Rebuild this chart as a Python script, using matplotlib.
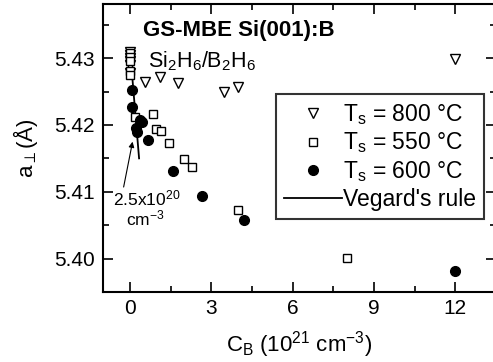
import matplotlib
matplotlib.use("Agg")
import matplotlib.pyplot as plt

plt.rcParams['font.family'] = ['Liberation Sans', 'DejaVu Sans']
plt.rcParams['mathtext.fontset'] = 'custom'
plt.rcParams['mathtext.rm'] = 'Liberation Sans'
plt.rcParams['mathtext.it'] = 'Liberation Sans'

# T_s = 800 C (open triangles)
c800 = [0, 0, 0, 0, 0, 0, 0.56, 1.1, 1.78, 3.45, 3.97, 12.0]
a800 = [5.4309, 5.4304, 5.4300, 5.4295, 5.4290, 5.4278, 5.4264, 5.4272, 5.4263, 5.4249, 5.4257, 5.4299]

# T_s = 550 C (open squares)
c550 = [0, 0, 0, 0, 0, 0.19, 0.85, 0.97, 1.15, 1.45, 1.97, 2.3, 3.97, 8.0]
a550 = [5.4307, 5.4301, 5.4295, 5.4280, 5.4274, 5.4212, 5.4216, 5.4194, 5.4191, 5.4173, 5.4149, 5.4137, 5.4072, 5.4001]

# T_s = 600 C (filled circles)
c600 = [0.07, 0.07, 0.37, 0.45, 0.22, 0.26, 0.67, 1.6, 2.64, 4.2, 12.0]
a600 = [5.4252, 5.4227, 5.4207, 5.4204, 5.4195, 5.4190, 5.4178, 5.4131, 5.4094, 5.4057, 5.3982]

# Vegard's rule
c_veg = [0.0, 0.33]
a_veg = [5.431, 5.415]

fig = plt.figure(figsize=(4.93, 3.62), dpi=100)
ax = fig.add_axes([0.209, 0.1934, 0.797, 0.7956])

ax.plot(c_veg, a_veg, color='black', lw=1.3, label="Vegard's rule", zorder=2)
ax.plot(c800, a800, 'v', ms=7, mfc='white', mec='black', mew=1.0, ls='none',
        label='T$_\\mathrm{s}$ = 800 °C', zorder=3)
ax.plot(c550, a550, 's', ms=5.5, mfc='white', mec='black', mew=1.0, ls='none',
        label='T$_\\mathrm{s}$ = 550 °C', zorder=3)
ax.plot(c600, a600, 'o', ms=7, mfc='black', mec='black', ls='none',
        label='T$_\\mathrm{s}$ = 600 °C', zorder=4)

ax.set_xlim(-1.0, 13.5)
ax.set_ylim(5.3951, 5.4381)
ax.set_xticks([0, 3, 6, 9, 12])
ax.set_xticks([1.5, 4.5, 7.5, 10.5], minor=True)
ax.set_yticks([5.40, 5.41, 5.42, 5.43])
ax.set_yticklabels(['5.40', '5.41', '5.42', '5.43'])
ax.set_yticks([5.395, 5.405, 5.415, 5.425, 5.435], minor=True)
ax.tick_params(which='both', direction='in', top=True, right=True, labelsize=15, width=1.2)
ax.tick_params(which='major', length=7)
ax.tick_params(which='minor', length=4)
ax.tick_params(axis='x', pad=5)
ax.tick_params(axis='y', pad=6)
for s in ax.spines.values():
    s.set_linewidth(1.5)

ax.set_xlabel('C$_\\mathrm{B}$ (10$^{21}$ cm$^{-3}$)', fontsize=16, labelpad=8)
ax.set_ylabel('a$_\\perp$(Å)', fontsize=16, labelpad=10)

ax.text(0.48, 5.4342, 'GS-MBE Si(001):B', fontsize=16, fontweight='bold', va='center')
ax.text(0.67, 5.4296, 'Si$_2$H$_6$/B$_2$H$_6$', fontsize=15.5, va='center')

ax.annotate('', xy=(0.11, 5.4179), xytext=(-0.26, 5.4103),
            arrowprops=dict(arrowstyle='-|>', color='black', lw=0.8, mutation_scale=8))
ax.text(-0.62, 5.4080, '2.5x10$^{20}$', fontsize=12.5)
ax.text(-0.15, 5.4050, 'cm$^{-3}$', fontsize=12.5)

handles, labels = ax.get_legend_handles_labels()
order = [1, 2, 3, 0]
leg = ax.legend([handles[i] for i in order], [labels[i] for i in order],
                loc='upper left', bbox_to_anchor=(0.441, 0.6875), fontsize=16.5,
                frameon=True, fancybox=False, edgecolor='black', handlelength=2.5,
                handletextpad=0.05, borderpad=0.35, labelspacing=0.16, borderaxespad=0)
leg.get_frame().set_linewidth(1.5)

fig.savefig('out.png', dpi=100)
